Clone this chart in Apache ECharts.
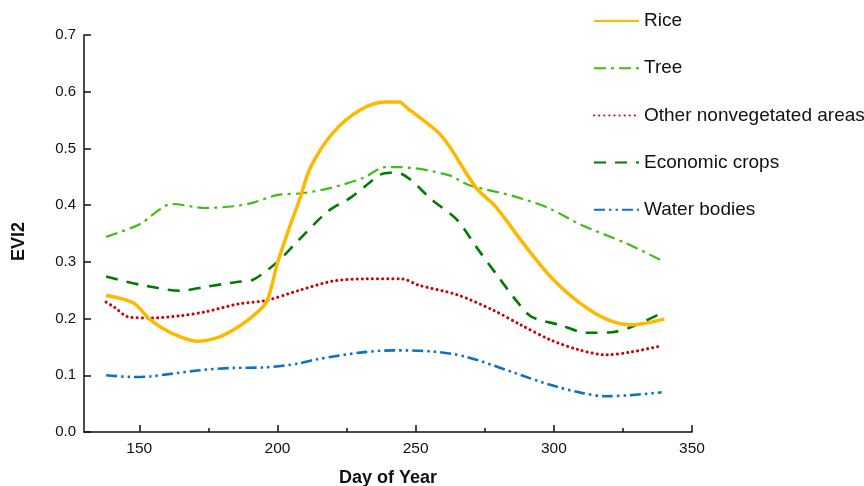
<!DOCTYPE html>
<html><head><meta charset="utf-8">
<script src="https://cdn.jsdelivr.net/npm/echarts@6/dist/echarts.min.js"></script>
<style>html,body{margin:0;padding:0;background:#fff}#c{width:864px;height:486px}</style>
</head><body><div id="c"></div>
<script>
// ---- data ----
const seriesNames = ['Rice', 'Tree', 'Other nonvegetated areas', 'Economic crops', 'Water bodies'];
const xMajorTicks = [150, 200, 250, 300, 350];
const xMinorTicks = [175, 225, 275, 325];
const yTicks = [0, 0.1, 0.2, 0.3, 0.4, 0.5, 0.6, 0.7];

const riceDays = [138,148,154,161,171,178,184,190,196,200,204,208,212,220,230,239,244,247,258,262,272,279,290,299,309,319,328,340];
const riceVals = [0.241,0.227,0.198,0.176,0.160,0.166,0.180,0.200,0.229,0.298,0.356,0.410,0.467,0.527,0.568,0.582,0.582,0.571,0.529,0.505,0.430,0.397,0.326,0.273,0.229,0.199,0.189,0.199];

const treeDays = [138,150,162,174,184,191,200,209,219,231,239,244,262,269,286,298,310,326,340];
const treeVals = [0.344,0.366,0.402,0.395,0.398,0.404,0.418,0.421,0.430,0.448,0.467,0.467,0.453,0.436,0.415,0.395,0.365,0.333,0.300];

const otherDays = [138,141,146,154,165,174,186,196,208,220,232,245,251,265,278,288,299,309,319,328,339];
const otherVals = [0.229,0.220,0.203,0.201,0.205,0.212,0.226,0.232,0.250,0.266,0.270,0.270,0.259,0.242,0.215,0.189,0.162,0.145,0.136,0.141,0.152];

const econDays = [138,150,165,174,186,191,200,208,218,227,237,241,245,256,265,272,280,287,292,302,312,321,328,340];
const econVals = [0.274,0.260,0.249,0.256,0.265,0.268,0.300,0.340,0.388,0.415,0.453,0.457,0.455,0.409,0.374,0.326,0.273,0.228,0.203,0.189,0.175,0.176,0.185,0.212];

const waterDays = [138,148,154,172,184,196,208,214,230,242,256,268,286,298,310,319,328,339];
const waterVals = [0.100,0.097,0.098,0.109,0.113,0.114,0.121,0.128,0.140,0.144,0.142,0.133,0.104,0.084,0.069,0.063,0.065,0.070];

function pairs(d, v) { return d.map((x, i) => [x, v[i]]); }

const styles = [
  { color: '#FFB800', width: 3.5, type: 'solid' },
  { color: '#3DBF12', width: 2.2, type: [12, 5, 3, 5] },
  { color: '#CC0000', width: 3, type: [0.1, 5], cap: 'round' },
  { color: '#007A00', width: 2.6, type: [12, 9] },
  { color: '#0A72C8', width: 2.6, type: [11, 4, 2.5, 4, 2.5, 4] }
];
const dataSets = [pairs(riceDays, riceVals), pairs(treeDays, treeVals), pairs(otherDays, otherVals), pairs(econDays, econVals), pairs(waterDays, waterVals)];

const axisColor = '#111';
const chart = echarts.init(document.getElementById('c'), null, { renderer: 'canvas' });
chart.setOption({
  animation: false,
  backgroundColor: '#fff',
  textStyle: { fontFamily: 'Liberation Sans, Arial, sans-serif' },
  grid: { left: 84, right: 172, top: 35, bottom: 54, containLabel: false, outerBoundsMode: 'none' },
  legend: {
    orient: 'vertical', left: 593, top: 11.5, padding: 0,
    itemWidth: 45, itemHeight: 14, itemGap: 28.2,
    itemStyle: { opacity: 0 },
    data: seriesNames,
    textStyle: { fontSize: 19, color: '#111', fontFamily: 'Liberation Sans, Arial, sans-serif' }
  },
  xAxis: [{
    type: 'value', min: 130, max: 350,
    name: 'Day of Year', nameLocation: 'middle', nameGap: 37,
    nameTextStyle: { fontSize: 18, fontWeight: 'bold', color: '#111' },
    axisLine: { show: true, lineStyle: { color: axisColor, width: 1.5 } },
    axisTick: { show: true, inside: true, length: 7, customValues: xMajorTicks, lineStyle: { color: axisColor, width: 1.5 } },
    axisLabel: { customValues: xMajorTicks, fontSize: 15.5, color: '#111', margin: 9 },
    splitLine: { show: false }
  }, {
    type: 'value', min: 130, max: 350, position: 'bottom',
    axisLine: { show: false },
    axisTick: { show: true, inside: true, length: 4, customValues: xMinorTicks, lineStyle: { color: axisColor, width: 1.5 } },
    axisLabel: { show: false },
    splitLine: { show: false }
  }],
  yAxis: {
    type: 'value', min: 0, max: 0.7, interval: 0.1,
    name: 'EVI2', nameLocation: 'middle', nameGap: 56,
    nameTextStyle: { fontSize: 18, fontWeight: 'bold', color: '#111', padding: [0, 0, 0, -16] },
    axisLine: { show: true, lineStyle: { color: axisColor, width: 1.5 } },
    axisTick: { show: true, inside: true, length: 7, lineStyle: { color: axisColor, width: 1.5 } },
    axisLabel: { fontSize: 15, color: '#111', margin: 8, formatter: v => v.toFixed(1) },
    splitLine: { show: false }
  },
  series: seriesNames.map((n, i) => ({
    name: n, type: 'line', xAxisIndex: 0, data: dataSets[i],
    symbol: 'none', smooth: 0.3, color: styles[i].color,
    lineStyle: { color: styles[i].color, width: styles[i].width, type: styles[i].type, cap: styles[i].cap || 'butt' },
    z: 10 - i
  }))
});
</script></body></html>
